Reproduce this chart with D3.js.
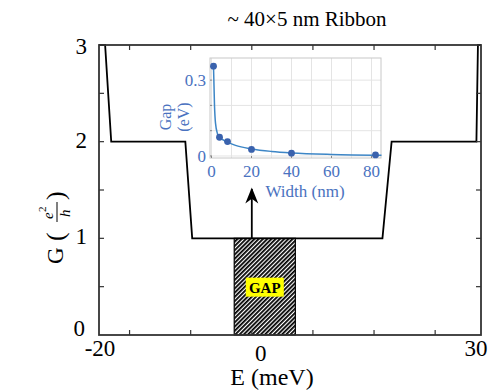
<!DOCTYPE html>
<html><head><meta charset="utf-8">
<script src="https://cdn.jsdelivr.net/npm/d3@7"></script>
<style>body{margin:0;background:#fff} svg{display:block}</style>
</head><body><svg id="c" width="490" height="390"></svg>
<script>
// ---- data ----
const stepE = [-20, -19.2, -18.4, -8.7, -7.8, 17.1, 18.3, 29.4, 29.6, 30];
const stepG = [3, 3, 2, 2, 1, 1, 2, 2, 3, 3];
const gapE = [-2.3, 5.7];
const gapG = 1;
const xTickLabels = [-20, 0, 30];
const xMinorTicks = [-16, -8, 0, 8, 16, 24];
const yTickLabels = [0, 1, 2, 3];
const yMinorTicks = [0.5, 1, 1.5, 2, 2.5];
const insetWidth = [1, 4, 8, 20, 40, 82];
const insetGap = [0.355, 0.074, 0.057, 0.026, 0.011, 0.004];
const fitWidth = [1, 1.5, 2, 3, 4, 6, 8, 12, 20, 30, 40, 60, 85];
const fitGap = [0.355, 0.2, 0.13, 0.088, 0.074, 0.063, 0.055, 0.042, 0.028, 0.018, 0.012, 0.006, 0.003];
const insetXTicks = [0, 20, 40, 60, 80];
const insetXGrid = [0, 10, 20, 30, 40, 50, 60, 70, 80];
const insetYTickLabels = [0, 0.3];
const insetYGrid = [0, 0.1, 0.2, 0.3];

const svg = d3.select("#c");
const serif = "'Liberation Serif','Times New Roman',serif";
const blue = "#4a72c0";

// ---- main axes ----
const M = {l: 99, r: 481, t: 45, b: 335};
const x = d3.scaleLinear().domain([-20, 30]).range([M.l, M.r]);
const y = d3.scaleLinear().domain([0, 3]).range([M.b, M.t]);

const defs = svg.append("defs");
const pat = defs.append("pattern").attr("id", "hatch").attr("patternUnits", "userSpaceOnUse")
  .attr("width", 3).attr("height", 3).attr("patternTransform", "rotate(45)");
pat.append("rect").attr("width", 3).attr("height", 3).attr("fill", "#fff");
pat.append("line").attr("x1", 0.9).attr("y1", 0).attr("x2", 0.9).attr("y2", 3)
  .attr("stroke", "#000").attr("stroke-width", 1.8);

// gap box
svg.append("rect")
  .attr("x", x(gapE[0])).attr("y", y(gapG))
  .attr("width", x(gapE[1]) - x(gapE[0])).attr("height", y(0) - y(gapG))
  .attr("fill", "url(#hatch)").attr("stroke", "#000").attr("stroke-width", 1.2);

// step curve
svg.append("path")
  .datum(stepE.map((e, i) => [e, stepG[i]]))
  .attr("d", d3.line().x(d => x(d[0])).y(d => y(d[1])))
  .attr("fill", "none").attr("stroke", "#000").attr("stroke-width", 1.8);

// GAP label
const gcx = x((gapE[0] + gapE[1]) / 2), gcy = y(gapG / 2);
svg.append("rect").attr("x", gcx - 19).attr("y", gcy - 9).attr("width", 38).attr("height", 19).attr("fill", "#ffff00");
svg.append("text").attr("x", gcx).attr("y", gcy + 6).attr("text-anchor", "middle")
  .attr("font-family", serif).attr("font-weight", "bold").attr("font-size", 15).text("GAP");

// arrow
defs.append("marker").attr("id", "ah").attr("viewBox", "0 0 10 10").attr("refX", 9).attr("refY", 5)
  .attr("markerWidth", 9).attr("markerHeight", 9).attr("orient", "auto")
  .append("path").attr("d", "M0,1 L10,5 L0,9 L3,5 Z").attr("fill", "#000");
svg.append("line").attr("x1", x(0)).attr("x2", x(0)).attr("y1", y(gapG)).attr("y2", 189)
  .attr("stroke", "#000").attr("stroke-width", 1.8).attr("marker-end", "url(#ah)");

// frame + ticks
svg.append("rect").attr("x", M.l).attr("y", M.t).attr("width", M.r - M.l).attr("height", M.b - M.t)
  .attr("fill", "none").attr("stroke", "#333").attr("stroke-width", 1.8);
const tl = 5;
xMinorTicks.forEach(v => {
  svg.append("line").attr("x1", x(v)).attr("x2", x(v)).attr("y1", M.b).attr("y2", M.b - tl).attr("stroke", "#333").attr("stroke-width", 1.2);
  svg.append("line").attr("x1", x(v)).attr("x2", x(v)).attr("y1", M.t).attr("y2", M.t + tl).attr("stroke", "#333").attr("stroke-width", 1.2);
});
yMinorTicks.forEach(v => {
  svg.append("line").attr("x1", M.l).attr("x2", M.l + tl).attr("y1", y(v)).attr("y2", y(v)).attr("stroke", "#333").attr("stroke-width", 1.2);
  svg.append("line").attr("x1", M.r).attr("x2", M.r - tl).attr("y1", y(v)).attr("y2", y(v)).attr("stroke", "#333").attr("stroke-width", 1.2);
});
svg.selectAll(".yl").data(yTickLabels).enter().append("text")
  .attr("x", d => d === 0 ? M.l - 14 : M.l - 12).attr("y", d => y(d) + (d === 0 ? 1 : (d === 3 ? 9 : 6))).attr("text-anchor", "end")
  .attr("font-family", serif).attr("font-size", 23).text(d => d);
svg.selectAll(".xl").data(xTickLabels).enter().append("text")
  .attr("x", d => x(d) + (d === 0 ? 9 : (d === 30 ? -5 : 1))).attr("y", d => d === 0 ? 361 : 356)
  .attr("text-anchor", "middle")
  .attr("font-family", serif).attr("font-size", 23).text(d => d);

// axis titles
svg.append("text").attr("x", 307).attr("y", 26).attr("text-anchor", "middle")
  .attr("font-family", serif).attr("font-size", 21).text("~ 40×5 nm Ribbon");
svg.append("text").attr("x", 272).attr("y", 385).attr("text-anchor", "middle")
  .attr("font-family", serif).attr("font-size", 24).text("E (meV)");

const gl = svg.append("g").attr("transform", "translate(63,224) rotate(-90)");
gl.append("text").attr("x", -40).attr("y", 0).attr("font-family", serif).attr("font-size", 23).text("G");
gl.append("text").attr("x", -17).attr("y", 1).attr("font-family", serif).attr("font-size", 26).text("(");
gl.append("text").attr("x", 5).attr("y", -10).attr("font-family", serif).attr("font-style", "italic").attr("font-size", 15).text("e");
gl.append("text").attr("x", 12).attr("y", -17).attr("font-family", serif).attr("font-size", 11).text("2");
gl.append("line").attr("x1", 2).attr("x2", 22).attr("y1", -6).attr("y2", -6).attr("stroke", "#000").attr("stroke-width", 1);
gl.append("text").attr("x", 7).attr("y", 7).attr("font-family", serif).attr("font-style", "italic").attr("font-size", 15).text("h");
gl.append("text").attr("x", 24).attr("y", 1).attr("font-family", serif).attr("font-size", 26).text(")");

// ---- inset ----
const I = {l: 210, r: 381, t: 58, b: 158};
const ix = d3.scaleLinear().domain([-0.75, 84.75]).range([I.l, I.r]);
const iy = d3.scaleLinear().domain([-0.008, 0.3875]).range([I.b, I.t]);
svg.append("rect").attr("x", I.l).attr("y", I.t).attr("width", I.r - I.l).attr("height", I.b - I.t).attr("fill", "#fff");
insetXGrid.forEach(v => svg.append("line").attr("x1", ix(v)).attr("x2", ix(v)).attr("y1", I.t).attr("y2", I.b).attr("stroke", "#e4e4e4").attr("stroke-width", 1));
insetYGrid.forEach(v => svg.append("line").attr("x1", I.l).attr("x2", I.r).attr("y1", iy(v)).attr("y2", iy(v)).attr("stroke", "#e4e4e4").attr("stroke-width", 1));
svg.append("rect").attr("x", I.l).attr("y", I.t).attr("width", I.r - I.l).attr("height", I.b - I.t)
  .attr("fill", "none").attr("stroke", "#c8c8c8").attr("stroke-width", 1);
insetXTicks.forEach(v => svg.append("line").attr("x1", ix(v)).attr("x2", ix(v)).attr("y1", I.b).attr("y2", I.b - 2).attr("stroke", "#888"));
insetYGrid.forEach(v => svg.append("line").attr("x1", I.l).attr("x2", I.l + 2).attr("y1", iy(v)).attr("y2", iy(v)).attr("stroke", "#888"));

svg.append("path").datum(fitWidth.map((w, i) => [w, fitGap[i]]))
  .attr("d", d3.line().curve(d3.curveMonotoneX).x(d => ix(d[0])).y(d => iy(d[1])))
  .attr("fill", "none").attr("stroke", "#3d86c6").attr("stroke-width", 1.5);
svg.selectAll(".pt").data(insetWidth).enter().append("circle")
  .attr("cx", d => ix(d)).attr("cy", (d, i) => iy(insetGap[i])).attr("r", 3.4).attr("fill", "#3a62ad");

svg.selectAll(".ixl").data(insetXTicks).enter().append("text")
  .attr("x", d => ix(d)).attr("y", 177).attr("text-anchor", "middle")
  .attr("font-family", serif).attr("font-size", 17).attr("fill", blue).text(d => d);
svg.selectAll(".iyl").data(insetYTickLabels).enter().append("text")
  .attr("x", I.l - 4).attr("y", d => iy(d) + 6).attr("text-anchor", "end")
  .attr("font-family", serif).attr("font-size", 17).attr("fill", blue).text(d => d);
svg.append("text").attr("x", 305).attr("y", 197).attr("text-anchor", "middle")
  .attr("font-family", serif).attr("font-size", 17).attr("fill", blue).text("Width (nm)");
const il = svg.append("g").attr("transform", "translate(175,117) rotate(-90)");
il.append("text").attr("x", 0).attr("y", -4).attr("text-anchor", "middle")
  .attr("font-family", serif).attr("font-size", 16).attr("fill", blue).text("Gap");
il.append("text").attr("x", 0).attr("y", 14).attr("text-anchor", "middle")
  .attr("font-family", serif).attr("font-size", 16).attr("fill", blue).text("(eV)");
</script></body></html>
